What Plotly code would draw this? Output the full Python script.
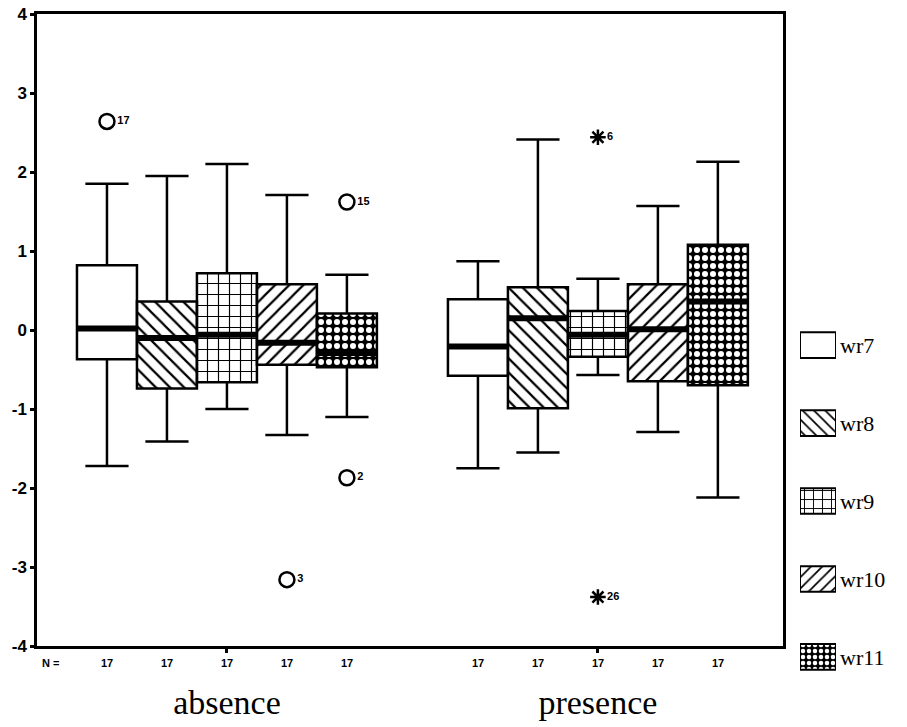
import plotly.graph_objects as go

# ---------------- data ----------------
groups = ["absence", "presence"]
series = ["wr7", "wr8", "wr9", "wr10", "wr11"]

lower_absence = [-1.72, -1.41, -1.00, -1.33, -1.10]
q1_absence = [-0.37, -0.74, -0.66, -0.44, -0.47]
median_absence = [0.02, -0.10, -0.06, -0.16, -0.29]
q3_absence = [0.82, 0.36, 0.72, 0.58, 0.21]
upper_absence = [1.85, 1.95, 2.10, 1.71, 0.70]

lower_presence = [-1.75, -1.55, -0.57, -1.29, -2.12]
q1_presence = [-0.58, -0.99, -0.34, -0.65, -0.70]
median_presence = [-0.21, 0.15, -0.06, 0.01, 0.36]
q3_presence = [0.39, 0.54, 0.24, 0.58, 1.08]
upper_presence = [0.87, 2.41, 0.65, 1.57, 2.13]

n_absence = [17, 17, 17, 17, 17]
n_presence = [17, 17, 17, 17, 17]

# outliers (o = outlier, * = extreme)
out_group = ["absence", "absence", "absence", "absence", "presence", "presence"]
out_series = ["wr7", "wr11", "wr11", "wr10", "wr9", "wr9"]
out_value = [2.64, 1.62, -1.87, -3.16, 2.44, -3.38]
out_case = ["17", "15", "2", "3", "6", "26"]
out_kind = ["o", "o", "o", "o", "*", "*"]

y_ticks = [-4, -3, -2, -1, 0, 1, 2, 3, 4]

# ---------------- styles ----------------
BOXW = 0.1617
pat_shape = {"wr7": "", "wr8": "\\", "wr9": "+", "wr10": "/", "wr11": "."}
pat_bg = {"wr7": "white", "wr8": "white", "wr9": "white", "wr10": "white", "wr11": "black"}
pat_fg = {"wr7": "black", "wr8": "black", "wr9": "black", "wr10": "black", "wr11": "white"}
pat_size = {"wr7": 8, "wr8": 10, "wr9": 11, "wr10": 10, "wr11": 8}
pat_sol = {"wr7": 0.2, "wr8": 0.22, "wr9": 0.2, "wr10": 0.22, "wr11": 0.45}

NUMFONT = dict(family="Liberation Sans, Arial", size=11, color="black", weight="bold")
SERIF = "Liberation Serif, Times New Roman"

stats = {
    "absence": dict(lo=lower_absence, q1=q1_absence, med=median_absence, q3=q3_absence, hi=upper_absence, n=n_absence),
    "presence": dict(lo=lower_presence, q1=q1_presence, med=median_presence, q3=q3_presence, hi=upper_presence, n=n_presence),
}

def pos(g, s):
    return groups.index(g) + (series.index(s) - 2) * BOXW

def pattern(s, size=None):
    return dict(fillmode="replace", shape=pat_shape[s], bgcolor=pat_bg[s], fgcolor=pat_fg[s],
                size=size or pat_size[s], solidity=pat_sol[s])

fig = go.Figure()

# patterned box fills (bars from q1 to q3)
for s in series:
    i = series.index(s)
    fig.add_trace(go.Bar(
        x=[pos(g, s) for g in groups],
        y=[stats[g]["q3"][i] - stats[g]["q1"][i] for g in groups],
        base=[stats[g]["q1"][i] for g in groups],
        width=BOXW, name=s, showlegend=False,
        marker=dict(color=pat_bg[s], line=dict(width=0), pattern=pattern(s)),
        hoverinfo="skip",
    ))

# box outlines + whiskers
for s in series:
    i = series.index(s)
    fig.add_trace(go.Box(
        x=[pos(g, s) for g in groups],
        q1=[stats[g]["q1"][i] for g in groups],
        median=[stats[g]["med"][i] for g in groups],
        q3=[stats[g]["q3"][i] for g in groups],
        lowerfence=[stats[g]["lo"][i] for g in groups],
        upperfence=[stats[g]["hi"][i] for g in groups],
        width=BOXW, whiskerwidth=0.72, boxpoints=False,
        fillcolor="rgba(0,0,0,0)", line=dict(color="black", width=2.5),
        showlegend=False, hoverinfo="skip",
    ))

# thick medians
mx, my = [], []
for g in groups:
    for s in series:
        i = series.index(s)
        p = pos(g, s)
        mx += [p - BOXW / 2, p + BOXW / 2, None]
        my += [stats[g]["med"][i], stats[g]["med"][i], None]
fig.add_trace(go.Scatter(x=mx, y=my, mode="lines", line=dict(color="black", width=6),
                         showlegend=False, hoverinfo="skip"))

# outliers
for kind, sym, size in [("o", "circle-open", 15), ("*", "asterisk-open", 13)]:
    idx = [k for k in range(len(out_value)) if out_kind[k] == kind]
    fig.add_trace(go.Scatter(
        x=[pos(out_group[k], out_series[k]) for k in idx],
        y=[out_value[k] for k in idx],
        text=[out_case[k] for k in idx],
        mode="markers+text", textposition="middle right",
        textfont=NUMFONT,
        marker=dict(symbol=sym, size=size, color="black", line=dict(color="black", width=2.5)),
        showlegend=False, hoverinfo="skip", cliponaxis=False,
    ))

# legend keys: one patterned swatch per series, series names as category labels
for s in series:
    fig.add_trace(go.Bar(
        y=[s], x=[1], orientation="h", width=0.33,
        xaxis="x2", yaxis="y2", showlegend=False, hoverinfo="skip",
        marker=dict(color=pat_bg[s], line=dict(color="black", width=2),
                    pattern=pattern(s, size=max(6, pat_size[s] - 2))),
    ))

# N = row
N_Y = 0.0635
fig.add_annotation(x=-0.505, y=N_Y, xref="x", yref="paper", text="N =", showarrow=False,
                   xanchor="left", yanchor="middle", font=NUMFONT)
for g in groups:
    for s in series:
        i = series.index(s)
        fig.add_annotation(x=pos(g, s), y=N_Y, xref="x", yref="paper",
                           text=str(stats[g]["n"][i]), showarrow=False,
                           xanchor="center", yanchor="middle", font=NUMFONT)

fig.update_layout(
    width=907, height=727,
    margin=dict(l=37, r=0, t=14, b=20),
    paper_bgcolor="white", plot_bgcolor="white",
    barmode="overlay", boxmode="overlay",
    showlegend=False,
    xaxis=dict(domain=[0, 0.8575], range=[-0.512, 1.499], tickvals=[0, 1], ticktext=groups,
               showgrid=False, zeroline=False, showline=True, mirror=True, automargin=False,
               linecolor="black", linewidth=2.5, ticks="outside", ticklen=4, tickwidth=3,
               tickcolor="black", ticklabelstandoff=20,
               tickfont=dict(family=SERIF, size=34, color="black")),
    yaxis=dict(domain=[0.088, 1], range=[-4, 4], tickvals=y_ticks,
               ticktext=[str(v) for v in y_ticks],
               showgrid=False, zeroline=False, showline=True, mirror=True, automargin=False,
               linecolor="black", linewidth=2.5, ticks="outside", ticklen=4, tickwidth=3,
               tickcolor="black",
               tickfont=dict(family="Liberation Sans, Arial", size=17, color="black", weight="bold")),
    xaxis2=dict(domain=[0.877, 0.9184], range=[0, 1], visible=False, anchor="y2"),
    yaxis2=dict(domain=[0.0159, 0.5786], type="category", categoryorder="array",
                categoryarray=series, autorange="reversed", anchor="x2", side="right",
                showgrid=False, zeroline=False, showline=False, ticks="", automargin=False,
                ticklabelstandoff=3,
                tickfont=dict(family=SERIF, size=22, color="black")),
)

fig.write_html("out.html")
